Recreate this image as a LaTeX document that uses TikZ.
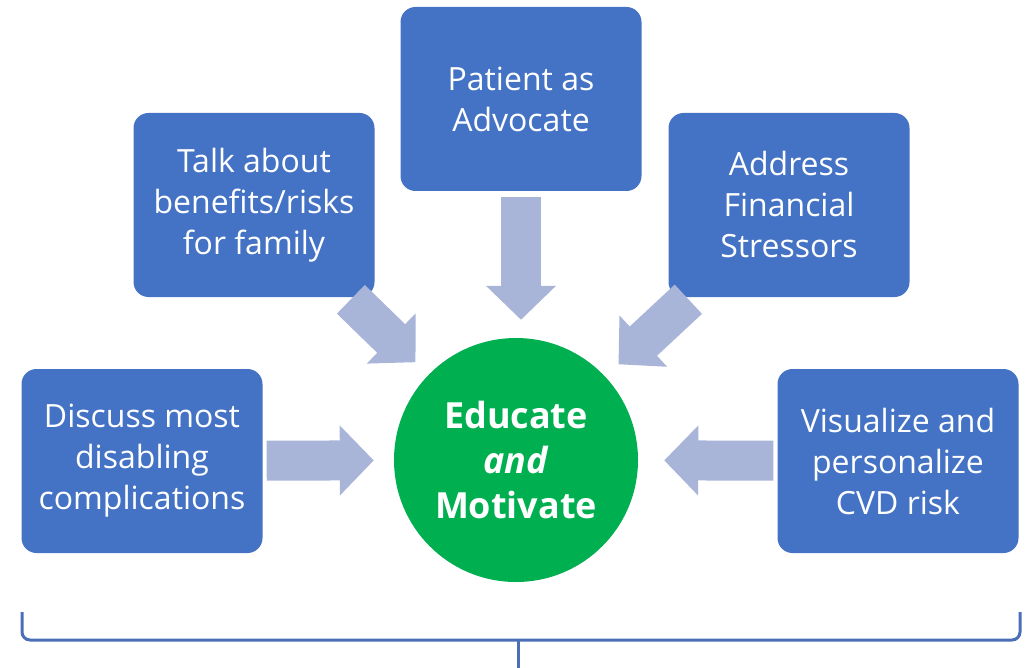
\documentclass[tikz,border=0pt]{standalone}
\usepackage{fontspec}
\setmainfont{Open Sans}
\usepackage{tikz}
\usetikzlibrary{arrows.meta, positioning, calc}
\usepackage{xcolor}
\definecolor{boxblue}{HTML}{4472C4}
\definecolor{arrowgrey}{HTML}{A9B4D9}
\definecolor{circgreen}{HTML}{00B050}
\definecolor{bracelineblue}{HTML}{4A6FB8}

\begin{document}
\begin{tikzpicture}[
    x=1pt, y=-1pt,
    box/.style={rectangle, rounded corners=15pt, fill=boxblue, minimum width=241pt, minimum height=184pt, inner sep=0pt, text=white, align=center, font=\fontsize{32}{41}\selectfont},
    hub/.style={circle, fill=circgreen, minimum size=244pt, inner sep=0pt, text=white, align=center, font=\fontsize{36}{45}\selectfont\bfseries},
    blockarrow/.style={-{Triangle[length=34pt, width=68pt]}, line width=40pt, draw=arrowgrey}
]
\useasboundingbox (0,0) rectangle (1030,668);
\node[hub] (edu) at (516,460) {Educate\\\textit{and}\\Motivate};
\node[box] (talk) at (254,205) {Talk about\\benefits/risks\\for family};
\node[box] (patient) at (521,99) {Patient as\\Advocate};
\node[box] (address) at (789,205) {Address\\Financial\\Stressors};
\node[box] (discuss) at (142,461) {Discuss most\\disabling\\complications};
\node[box] (visual) at (898,461) {Visualize and\\personalize\\CVD risk};
\draw[blockarrow, shorten <=4pt, shorten >=20pt] (discuss) -- (edu);
\draw[blockarrow, shorten <=4pt, shorten >=26pt] (visual) -- (edu);
\draw[blockarrow, shorten <=6pt, shorten >=18pt] (patient) -- (patient |- edu.north);
\draw[blockarrow, shorten <=3pt, shorten >=18pt] (talk) -- (edu);
\draw[blockarrow, shorten <=3pt, shorten >=18pt] (address) -- (edu);
% brace under the boxes
\draw[bracelineblue, line width=3pt, rounded corners=8pt] (22,612) |- (1020,640) -- (1020,612);
\draw[bracelineblue, line width=3pt] (518,640) -- (518,672);
\end{tikzpicture}
\end{document}
